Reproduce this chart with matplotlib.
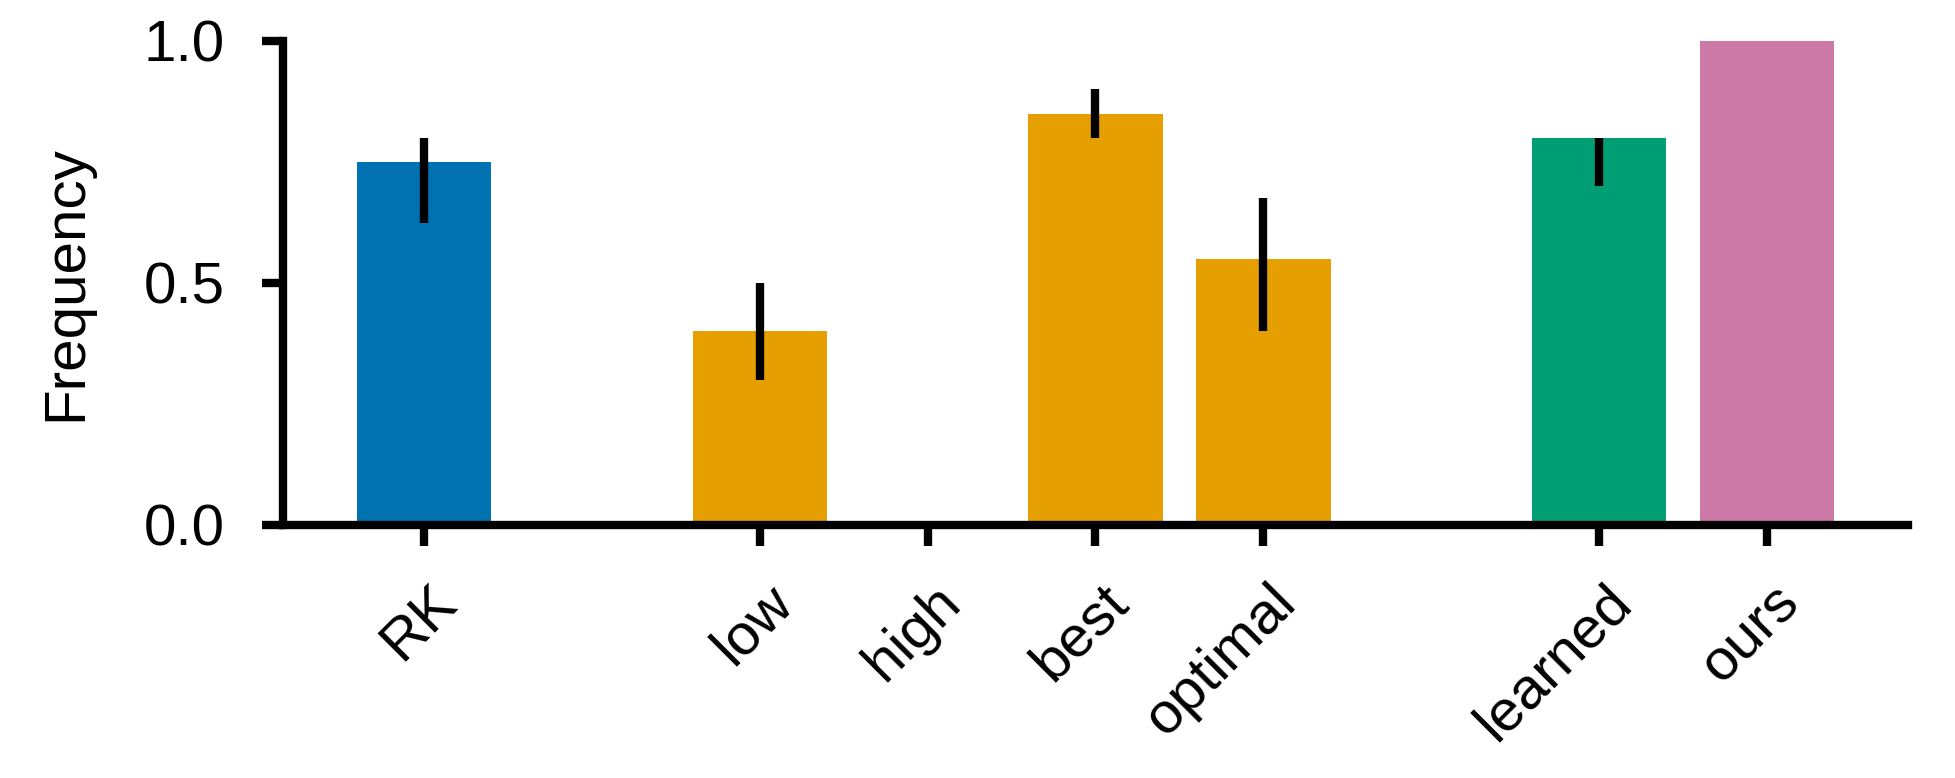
import matplotlib
matplotlib.use('Agg')
import matplotlib.pyplot as plt
from matplotlib.transforms import ScaledTranslation
import numpy as np

categories = ['RK', 'low', 'high', 'best', 'optimal', 'learned', 'ours']
positions = [0, 2, 3, 4, 5, 7, 8]
values = [0.75, 0.40, 0.0, 0.85, 0.55, 0.80, 1.00]
lower = [0.625, 0.30, 0.0, 0.80, 0.40, 0.70, 1.00]
upper = [0.80, 0.50, 0.0, 0.90, 0.675, 0.80, 1.00]
colors = ['#0072B2', '#E69F00', '#E69F00', '#E69F00', '#E69F00', '#009E73', '#CC79A7']
yticks = [0.0, 0.5, 1.0]
ytick_labels = ['0.0', '0.5', '1.0']

plt.rcParams['font.family'] = ['Liberation Sans', 'DejaVu Sans']
fig = plt.figure(figsize=(6.52, 778 / 300), dpi=300)
ax = fig.add_axes([283 / 1956, (778 - 525) / 778, (1908 - 283) / 1956, (525 - 41) / 778])

ax.bar(positions, values, width=0.8, color=colors, zorder=1)
v = np.array(values)
yerr = [v - np.array(lower), np.array(upper) - v]
ax.errorbar(positions, values, yerr=yerr, fmt='none', ecolor='black',
            elinewidth=2, capsize=0, zorder=3)

ax.set_xlim(-0.84, 8.84)
ax.set_ylim(0, 1)
for s in ['top', 'right']:
    ax.spines[s].set_visible(False)
for s in ['left', 'bottom']:
    ax.spines[s].set_linewidth(2)
    ax.spines[s].set_zorder(4)

ax.set_yticks(yticks)
ax.set_yticklabels(ytick_labels, fontsize=14)
ax.set_xticks(positions)
ax.set_xticklabels(categories, rotation=45, ha='right', va='top',
                   rotation_mode='anchor', fontsize=14)
ax.tick_params(axis='both', direction='out', length=5, width=2)
ax.tick_params(axis='y', pad=9)
ax.tick_params(axis='x', pad=7)
shift = ScaledTranslation(5 / 300, 0, fig.dpi_scale_trans)
for lab in ax.get_xticklabels():
    lab.set_transform(lab.get_transform() + shift)
ax.set_ylabel('Frequency', fontsize=14, labelpad=12)

fig.savefig('out.png', dpi=300)
